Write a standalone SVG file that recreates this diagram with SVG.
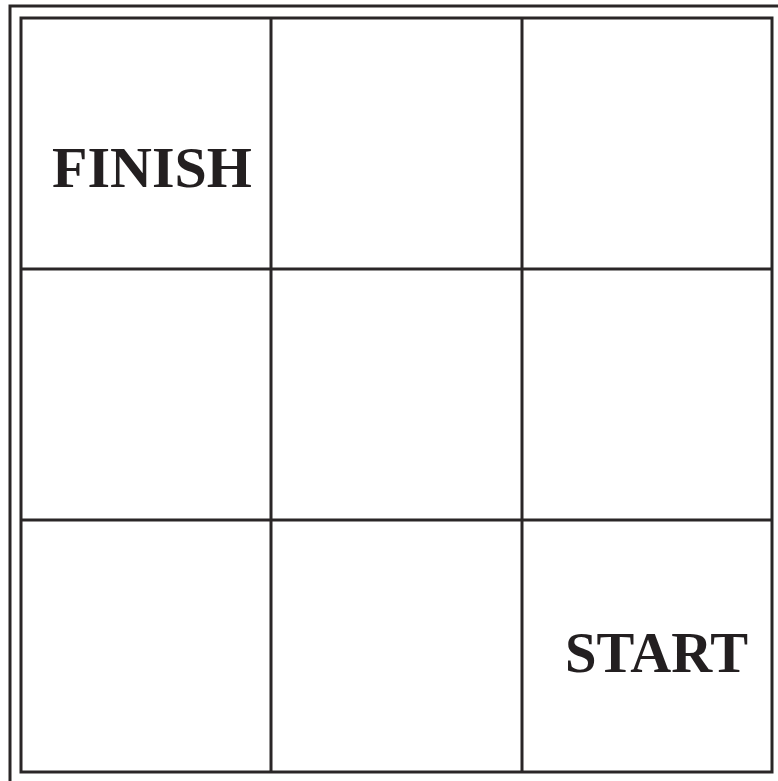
<svg xmlns="http://www.w3.org/2000/svg" width="778" height="781" viewBox="0 0 778 781">
<style>
.frame{fill:none;stroke:#2a2627;stroke-width:3}
.grid{fill:none;stroke:#2a2627;stroke-width:3}
.lbl{font-family:"Liberation Serif",serif;font-weight:bold;fill:#231f20}
</style>
<rect width="778" height="781" fill="#ffffff"/>
<rect class="frame" x="10" y="6" width="790" height="800"/>
<g id="grid">
<rect class="grid" x="21" y="18" width="751" height="754"/>
<line class="grid" x1="271" y1="18" x2="271" y2="772"/>
<line class="grid" x1="522" y1="18" x2="522" y2="772"/>
<line class="grid" x1="21" y1="269" x2="772" y2="269"/>
<line class="grid" x1="21" y1="520" x2="772" y2="520"/>
</g>
<g id="finish"><text class="lbl" x="52" y="187" font-size="58">FINISH</text></g>
<g id="start"><text class="lbl" x="565" y="672" font-size="57" textLength="183" lengthAdjust="spacingAndGlyphs">START</text></g>
</svg>
